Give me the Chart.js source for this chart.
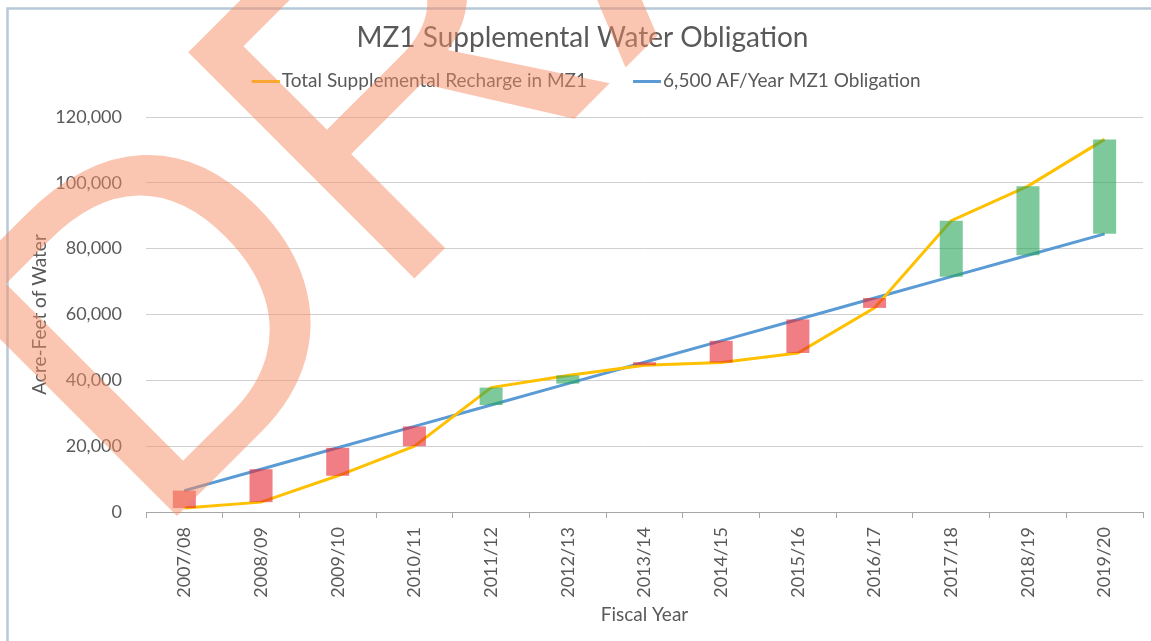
<!DOCTYPE html>
<html>
<head>
<meta charset="utf-8">
<title>MZ1 Supplemental Water Obligation</title>
<script src="https://cdn.jsdelivr.net/npm/chart.js@4.4.1/dist/chart.umd.min.js"></script>
<style>
  html, body { margin: 0; padding: 0; background: #fff; }
  #wrap { width: 1151px; height: 641px; position: relative; }
</style>
</head>
<body>
<div id="wrap"><canvas id="mz1Chart"></canvas></div>
<script>
// Values (acre-feet, cumulative)
const fiscalYears = ['2007/08', '2008/09', '2009/10', '2010/11', '2011/12', '2012/13', '2013/14',
  '2014/15', '2015/16', '2016/17', '2017/18', '2018/19', '2019/20']
const obligation = [6500, 13000, 19500, 26000, 32500, 39000, 45500, 52000, 58500, 65000, 71500, 78000, 84500]
const recharge = [1200, 3000, 11000, 20000, 37800, 41500, 44600, 45400, 48300, 62000, 88500, 99000, 113200]
const yTicks = [0, 20000, 40000, 60000, 80000, 100000, 120000]

const TEXT = '#595959'
const FONT = 'Lato'

// Floating bars span the gap between obligation and recharge for each year
const gapBars = fiscalYears.map((_, i) => [obligation[i], recharge[i]])
const gapColors = fiscalYears.map((_, i) =>
  recharge[i] >= obligation[i] ? 'rgba(40, 165, 90, 0.6)' : 'rgba(230, 40, 50, 0.6)')

// Legend swatch: short line sitting at the right of a wider transparent canvas,
// so the gap to the label text is small like in Excel
function lineSwatch (color) {
  const c = document.createElement('canvas')
  c.width = 43
  c.height = 3
  const g = c.getContext('2d')
  g.fillStyle = color
  g.fillRect(15, 0, 28, 3)
  return c
}

// White page, chart frame and the DRAFT stamp
const pageFrame = {
  id: 'pageFrame',
  beforeDraw (chart) {
    const { ctx, width, height } = chart
    ctx.save()
    ctx.fillStyle = '#fff'
    ctx.fillRect(0, 0, width, height)
    ctx.strokeStyle = '#b7c9d9'
    ctx.lineWidth = 2.5
    ctx.beginPath()
    ctx.moveTo(7.5, height)
    ctx.lineTo(7.5, 8.5)
    ctx.lineTo(width, 8.5)
    ctx.stroke()
    ctx.restore()
  },
  afterDraw (chart) {
    const { ctx } = chart
    ctx.save()
    ctx.translate(150, 543)
    ctx.rotate(-Math.PI / 4)
    ctx.font = '465px "Liberation Sans"'
    ctx.fillStyle = 'rgba(245, 140, 100, 0.5)'
    ctx.textBaseline = 'alphabetic'
    ctx.fillText('DRAFT', 0, 0)
    ctx.restore()
  }
}

new Chart(document.getElementById('mz1Chart').getContext('2d'), {
  type: 'bar',
  data: {
    labels: fiscalYears,
    datasets: [
      {
        type: 'line',
        label: 'Total Supplemental Recharge in MZ1',
        data: recharge,
        borderColor: '#ffc000',
        backgroundColor: '#ffc000',
        borderWidth: 3,
        pointRadius: 0,
        tension: 0,
        order: 1
      },
      {
        type: 'line',
        label: '6,500 AF/Year MZ1 Obligation',
        data: obligation,
        borderColor: '#5b9bd5',
        backgroundColor: '#5b9bd5',
        borderWidth: 3,
        pointRadius: 0,
        tension: 0,
        order: 1
      },
      {
        type: 'bar',
        label: 'Difference',
        data: gapBars,
        backgroundColor: gapColors,
        borderWidth: 0,
        barPercentage: 0.3,
        categoryPercentage: 1,
        order: 0
      }
    ]
  },
  options: {
    responsive: true,
    maintainAspectRatio: false,
    animation: false,
    layout: { padding: { left: 22, right: 8, top: 0, bottom: 0 } },
    plugins: {
      tooltip: { enabled: false },
      title: {
        display: true,
        text: 'MZ1 Supplemental Water Obligation',
        color: TEXT,
        font: { family: FONT, size: 28, weight: 'normal' },
        padding: { top: 20.7, bottom: 7.2 }
      },
      subtitle: {
        // empty spacer between legend and plot
        display: true,
        text: '',
        position: 'top',
        weight: 500,
        font: { size: 1, lineHeight: 1 },
        padding: { top: 15.5, bottom: 0 }
      },
      legend: {
        position: 'top',
        labels: {
          color: TEXT,
          font: { family: FONT, size: 19 },
          usePointStyle: true,
          pointStyleWidth: 28,
          boxHeight: 3,
          padding: 10,
          generateLabels: (chart) => chart.data.datasets
            .map((ds, i) => ({ ds, i }))
            .filter(({ ds }) => ds.type === 'line')
            .map(({ ds, i }) => ({
              text: i === 0 ? ds.label + '\u2003\u2003' : ds.label,
              fillStyle: ds.borderColor,
              strokeStyle: ds.borderColor,
              lineWidth: 0,
              pointStyle: lineSwatch(ds.borderColor),
              fontColor: TEXT,
              datasetIndex: i
            }))
        }
      }
    },
    scales: {
      x: {
        offset: true,
        grid: { display: true, offset: true, drawOnChartArea: false, drawTicks: true, tickLength: 6, color: '#a6a6a6' },
        border: { display: true, color: '#a6a6a6', width: 1 },
        ticks: {
          color: TEXT,
          font: { family: FONT, size: 18 },
          minRotation: 90,
          maxRotation: 90,
          autoSkip: false,
          padding: 9
        },
        title: {
          display: true,
          text: 'Fiscal Year',
          color: TEXT,
          font: { family: FONT, size: 19 },
          padding: { top: 0, bottom: 14.6 }
        },
        afterFit: (scale) => { scale.height = 129 }
      },
      y: {
        min: 0,
        max: 120000,
        grid: { color: '#d0d0d0', drawTicks: false },
        border: { display: false },
        afterBuildTicks: (scale) => { scale.ticks = yTicks.map(v => ({ value: v })) },
        ticks: {
          color: TEXT,
          font: { family: FONT, size: 18 },
          padding: 24,
          callback: (value) => value.toLocaleString('en-US')
        },
        title: {
          display: true,
          text: 'Acre-Feet of Water',
          color: TEXT,
          font: { family: FONT, size: 19 },
          padding: { top: 6, bottom: 0 }
        },
        afterFit: (scale) => { scale.width = 124 }
      }
    }
  },
  plugins: [pageFrame]
})
</script>
</body>
</html>
